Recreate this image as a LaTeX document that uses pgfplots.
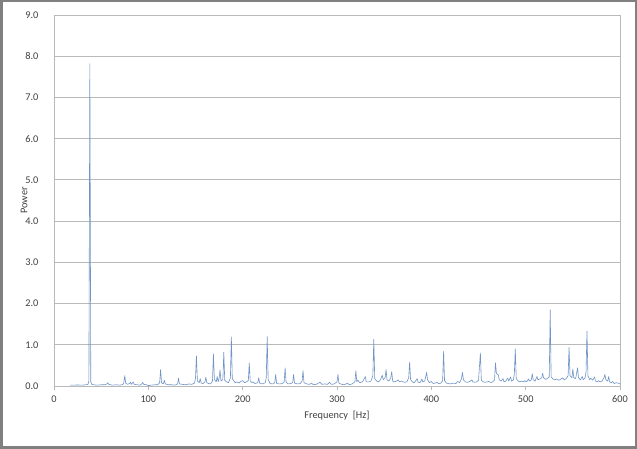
\documentclass[border=0pt]{standalone}
\usepackage{pgfplots}
\pgfplotsset{compat=1.18}
\usepackage{fontspec}
\setmainfont{Carlito}
\definecolor{specline}{RGB}{112,148,198}
\definecolor{gridc}{RGB}{185,185,185}
\definecolor{txt}{RGB}{64,64,64}
\definecolor{framec}{RGB}{128,128,128}
\pgfplotstableread{
f p
17 0.02
20 0.02
25 0.025
30 0.02
34 0.03
36 0.04
37 0.12
38 7.82
39 0.1
40 0.04
42 0.03
46 0.02
50 0.03
54 0.03
56 0.05
57 0.08
58 0.04
62 0.02
66 0.03
70 0.02
73 0.04
74 0.08
75 0.25
76 0.07
78 0.04
80 0.06
81 0.09
82 0.04
84 0.1
85 0.04
88 0.03
91 0.02
93 0.05
94 0.09
95 0.04
98 0.03
100 0.01
103 0.02
107 0.03
110 0.03
112 0.08
113 0.4
114 0.08
116 0.05
117 0.14
118 0.05
121 0.03
125 0.03
128 0.02
131 0.05
132 0.19
133 0.05
136 0.04
140 0.03
143 0.05
146 0.04
149 0.07
150 0.2
151 0.73
152 0.12
154 0.08
155 0.18
156 0.07
158 0.06
160 0.1
161 0.21
162 0.08
164 0.06
166 0.05
168 0.12
169 0.78
170 0.16
172 0.1
173 0.23
174 0.1
175 0.18
176 0.39
177 0.12
179 0.16
180 0.82
181 0.14
183 0.1
185 0.08
187 0.2
188 1.19
189 0.18
190 0.15
192 0.08
194 0.1
196 0.07
198 0.11
200 0.13
202 0.08
204 0.1
206 0.13
207 0.56
208 0.12
210 0.08
211 0.1
213 0.06
216 0.08
217 0.2
218 0.07
221 0.05
224 0.08
225 0.2
226 1.2
227 0.16
229 0.06
232 0.05
234 0.08
235 0.28
236 0.06
239 0.05
242 0.06
244 0.1
245 0.44
246 0.1
248 0.05
251 0.06
253 0.08
254 0.28
255 0.07
258 0.05
261 0.06
263 0.12
264 0.37
265 0.08
268 0.05
271 0.04
273 0.07
275 0.03
278 0.04
282 0.09
284 0.04
287 0.05
290 0.04
292 0.09
294 0.04
297 0.05
300 0.1
301 0.28
302 0.07
305 0.04
308 0.03
311 0.07
313 0.03
316 0.05
319 0.1
320 0.37
321 0.1
322 0.15
324 0.08
327 0.1
329 0.18
330 0.23
331 0.1
334 0.1
336 0.12
338 0.25
339 1.13
340 0.18
342 0.12
344 0.1
346 0.15
348 0.26
349 0.15
351 0.2
352 0.4
353 0.15
355 0.12
357 0.2
358 0.35
359 0.12
361 0.1
363 0.12
365 0.15
366 0.1
368 0.12
370 0.1
372 0.09
374 0.1
376 0.2
377 0.58
378 0.15
380 0.1
382 0.08
385 0.18
386 0.09
388 0.08
390 0.17
391 0.1
393 0.12
395 0.33
396 0.15
398 0.08
400 0.11
402 0.06
404 0.07
406 0.09
408 0.05
410 0.07
412 0.13
413 0.84
414 0.13
416 0.07
418 0.06
420 0.05
423 0.07
426 0.06
428 0.11
430 0.08
432 0.18
433 0.33
434 0.15
436 0.1
438 0.09
440 0.1
443 0.15
444 0.1
446 0.09
448 0.1
450 0.14
452 0.8
453 0.14
455 0.1
457 0.09
459 0.1
461 0.11
463 0.08
465 0.1
467 0.15
468 0.56
469 0.3
471 0.27
472 0.15
474 0.12
476 0.18
477 0.1
479 0.12
481 0.19
482 0.12
484 0.22
485 0.12
487 0.15
488 0.3
489 0.9
490 0.18
492 0.12
494 0.1
496 0.12
498 0.1
499 0.13
501 0.1
503 0.17
504 0.12
506 0.15
507 0.3
508 0.15
510 0.12
512 0.23
513 0.15
515 0.17
517 0.2
518 0.31
519 0.2
521 0.16
523 0.18
525 0.22
526 1.85
527 0.22
529 0.17
531 0.15
533 0.17
535 0.14
537 0.16
539 0.2
541 0.15
543 0.18
545 0.25
546 0.94
547 0.25
549 0.2
550 0.41
551 0.2
553 0.18
555 0.44
556 0.2
558 0.15
560 0.23
561 0.15
563 0.2
564 0.35
565 1.33
566 0.25
568 0.15
569 0.19
571 0.14
573 0.22
574 0.12
576 0.1
577 0.13
579 0.1
581 0.12
583 0.2
584 0.28
585 0.15
587 0.12
588 0.23
589 0.1
591 0.08
592 0.11
594 0.06
596 0.08
598 0.07
600 0.05
}\spectrum
\begin{document}
\begin{tikzpicture}[x=1pt,y=1pt]
\path[use as bounding box] (0,0) rectangle (637,449);
\fill[white] (0,0) rectangle (637,449);
\draw[framec, line width=2.5pt] (1.25,1.25) rectangle (635.75,447.75);
\begin{axis}[
  at={(54pt,63pt)}, anchor=south west,
  scale only axis, width=566pt, height=371pt,
  xmin=0, xmax=600, ymin=0, ymax=9,
  xtick={0,100,...,600}, ytick={0,1,...,9},
  /pgf/number format/assume math mode=true,
  y tick label style={/pgf/number format/fixed, /pgf/number format/fixed zerofill, /pgf/number format/precision=1, anchor=east, xshift=-8pt},
  ymajorgrids, grid style={gridc, line width=0.8pt},
  axis line style={gridc, line width=0.8pt},
  tick align=outside, major tick length=4pt,
  xtick style={gridc, line width=0.8pt},
  ytick style={draw=none},
  xtick pos=bottom, ytick pos=left,
  font=\fontsize{10.3}{12}\selectfont,
  tick label style={txt},
  x tick label style={anchor=center, yshift=-9pt},
  xlabel={Frequency\ \ [Hz]}, ylabel={Power},
  label style={txt},
  xlabel style={at={([yshift=-30pt]axis description cs:0.5,0)}, anchor=center},
  ylabel style={at={([xshift=-30pt]axis description cs:0,0.5)}, anchor=center},
]
\addplot[specline, line width=0.6pt, mark=none, line join=round] table[x=f, y=p] {\spectrum};
\end{axis}
\end{tikzpicture}
\end{document}
